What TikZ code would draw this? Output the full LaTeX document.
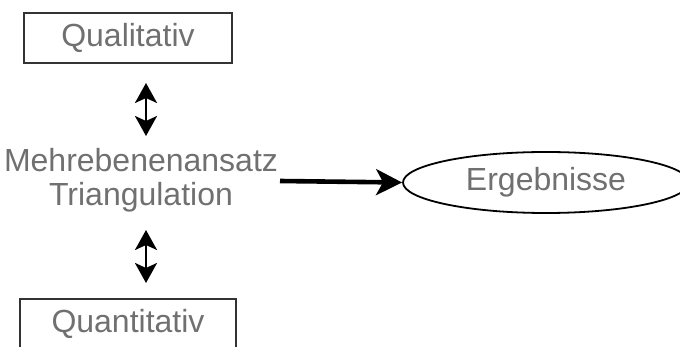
\documentclass[tikz,border=0pt]{standalone}
\usepackage{fontspec}
\setmainfont{Liberation Sans}
\usetikzlibrary{arrows.meta,shapes.geometric}
\definecolor{labelgray}{HTML}{707070}
\definecolor{framegray}{HTML}{333333}
\tikzset{
  lbl/.style={text=labelgray, font=\fontsize{32}{37}\selectfont},
  framebox/.style={lbl, draw=framegray, line width=2pt, minimum width=208pt, minimum height=50pt, inner sep=0pt},
  oval/.style={lbl, ellipse, draw=black, line width=1.8pt, minimum width=286pt, minimum height=61pt, inner sep=0pt},
  twoway/.style={arrows={Stealth[length=20pt,width=22pt,inset=5pt]-Stealth[length=20pt,width=22pt,inset=5pt]}, line width=2.6pt},
  oneway/.style={arrows={-Stealth[length=26pt,width=26pt,inset=7pt]}, line width=4.6pt},
}
\begin{document}
\begin{tikzpicture}[x=1pt,y=-1pt]
  \useasboundingbox (0,0) rectangle (680,347);
  \clip (0,0) rectangle (680,347);
  \node[framebox] (qual) at (128,38) {Qualitativ};
  \node[framebox, minimum width=216pt] (quant) at (128,324) {Quantitativ};
  \node[lbl, align=center, inner sep=0pt] (mid) at (141,180)
    {Mehrebenenansatz\\[-3pt]Triangulation};
  \node[oval] (res) at (546,182.5) {Ergebnisse};
  \coordinate (a1) at (146,83);
  \coordinate (a2) at (146,136);
  \coordinate (b1) at (146,230);
  \coordinate (b2) at (146,283);
  \coordinate (r1) at (280,181);
  \draw[twoway] (a1) -- (a2);
  \draw[twoway] (b1) -- (b2);
  \draw[oneway] (r1) -- (res.west);
\end{tikzpicture}
\end{document}
